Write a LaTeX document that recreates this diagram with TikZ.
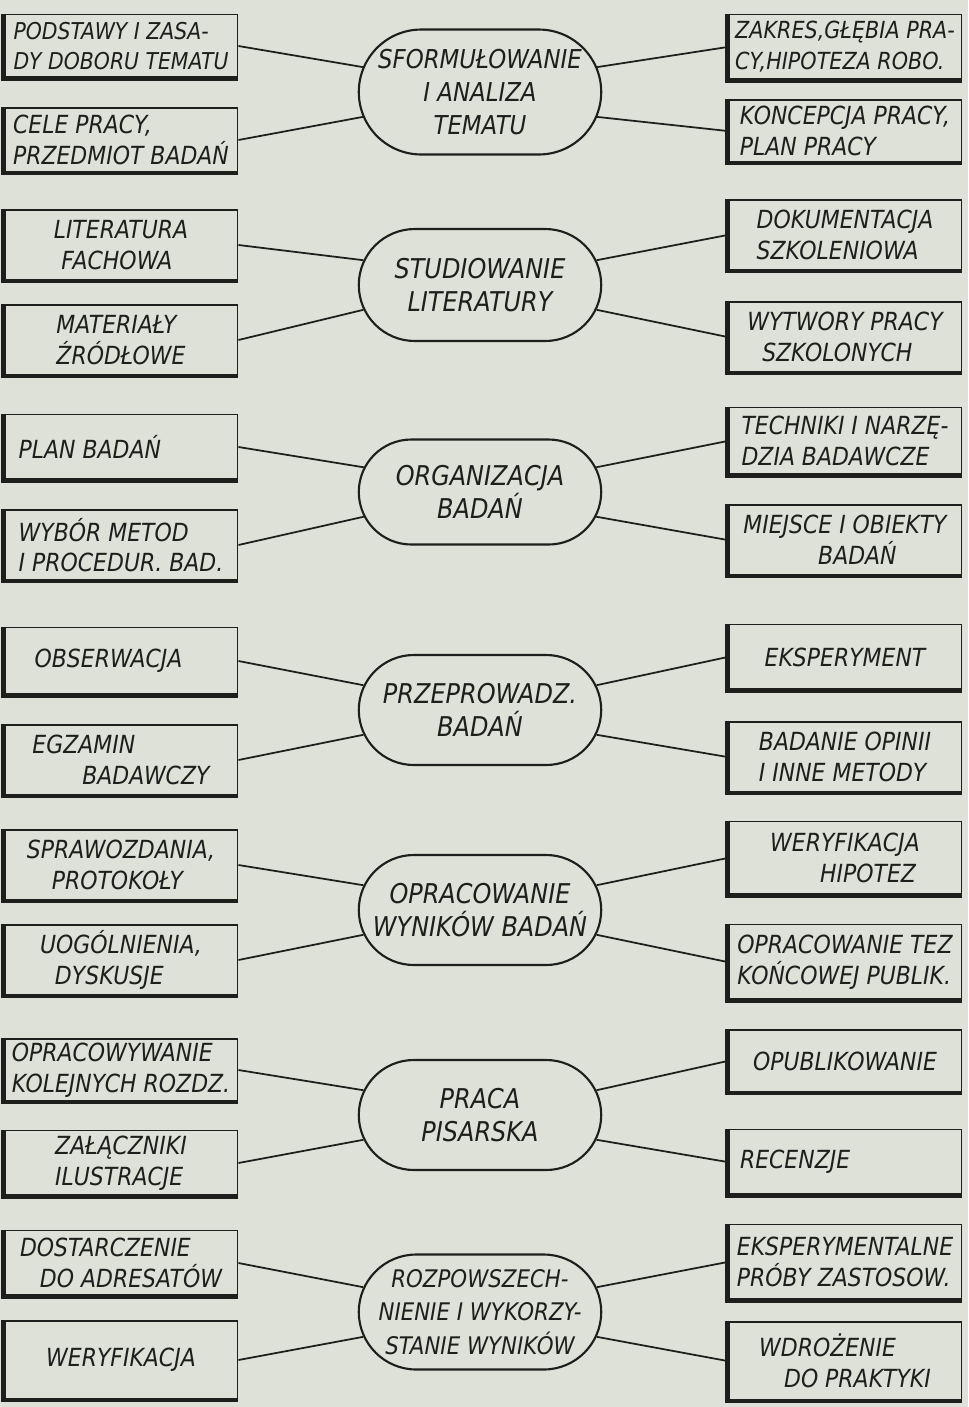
\documentclass[tikz,border=0pt]{standalone}
\usepackage{fontspec}
\setmainfont{DejaVu Sans}[FakeStretch=0.88]
\usetikzlibrary{shapes.misc}
\definecolor{paper}{RGB}{221,225,215}
\definecolor{ink}{RGB}{30,30,28}

\begin{document}
\begin{tikzpicture}[x=0.02cm,y=-0.02cm,
    box/.style={draw=ink,line width=1.1pt,minimum width=4.66cm,align=left,inner sep=2pt,
        text=ink,font=\itshape\fontsize{14.2}{17.5}\selectfont},
    topic/.style={draw=ink,line width=1.2pt,rounded rectangle,minimum width=4.92cm,align=center,
        inner sep=1pt,text=ink,font=\itshape\fontsize{15.5}{19}\selectfont},
    link/.style={draw=ink,line width=1pt}]
    \fill[paper] (0,0) rectangle (968,1407);
    \useasboundingbox (0,0) rectangle (968,1407);

    % centre column
    \node[topic,minimum height=2.5cm,font=\itshape\fontsize{14.8}{19}\selectfont]
        (c1) at (480,92) {SFORMUŁOWANIE\\I ANALIZA\\TEMATU};
    \node[topic,minimum height=2.24cm] (c2) at (480,285)  {STUDIOWANIE\\LITERATURY};
    \node[topic,minimum height=2.1cm]  (c3) at (480,492)  {ORGANIZACJA\\BADAŃ};
    \node[topic,minimum height=2.2cm]  (c4) at (480,710)  {PRZEPROWADZ.\\BADAŃ};
    \node[topic,minimum height=2.2cm]  (c5) at (480,910)  {OPRACOWANIE\\WYNIKÓW BADAŃ};
    \node[topic,minimum height=2.2cm]  (c6) at (480,1115) {PRACA\\PISARSKA};
    \node[topic,minimum height=2.3cm,font=\itshape\fontsize{13.8}{19}\selectfont]
        (c7) at (480,1312) {ROZPOWSZECH-\\NIENIE I WYKORZY-\\STANIE WYNIKÓW};

    % left column
    \node[box,minimum height=1.26cm,font=\itshape\fontsize{13.2}{17.5}\selectfont]
        (l1)  at (121,46)   {PODSTAWY I ZASA-\\DY DOBORU TEMATU};
    \node[box,minimum height=1.28cm] (l2)  at (121,140)  {CELE PRACY,\hspace*{2.5em}\\PRZEDMIOT BADAŃ};
    \node[box,minimum height=1.4cm]  (l3)  at (121,245)  {LITERATURA\\\hspace*{0.3em}FACHOWA};
    \node[box,minimum height=1.4cm]  (l4)  at (121,340)  {MATERIAŁY\\ŹRÓDŁOWE};
    \node[box,minimum height=1.3cm]  (l5)  at (121,447)  {PLAN BADAŃ\hspace*{2.5em}};
    \node[box,minimum height=1.4cm]  (l6)  at (121,545)  {WYBÓR METOD\\I PROCEDUR. BAD.};
    \node[box,minimum height=1.34cm] (l7)  at (121,661)  {OBSERWACJA\hspace*{1em}};
    \node[box,minimum height=1.4cm]  (l8)  at (121,760)  {EGZAMIN\\\hspace*{2em}BADAWCZY};
    \node[box,minimum height=1.4cm]  (l9)  at (121,865)  {SPRAWOZDANIA,\\\hspace*{1em}PROTOKOŁY};
    \node[box,minimum height=1.4cm]  (l10) at (121,960)  {UOGÓLNIENIA,\\\hspace*{0.6em}DYSKUSJE};
    \node[box,minimum height=1.24cm] (l11) at (121,1070) {OPRACOWYWANIE\\KOLEJNYCH ROZDZ.};
    \node[box,minimum height=1.3cm]  (l12) at (121,1163) {ZAŁĄCZNIKI\\ILUSTRACJE};
    \node[box,minimum height=1.3cm]  (l13) at (121,1263) {DOSTARCZENIE\\\hspace*{0.8em}DO ADRESATÓW};
    \node[box,minimum height=1.56cm] (l14) at (121,1360) {WERYFIKACJA};

    % right column
    \node[box,minimum height=1.3cm,font=\itshape\fontsize{13.4}{17.5}\selectfont]
        (r1)  at (845,47)   {ZAKRES,GŁĘBIA PRA-\\CY,HIPOTEZA ROBO.};
    \node[box,minimum height=1.24cm] (r2)  at (845,131)  {KONCEPCJA PRACY,\\PLAN PRACY};
    \node[box,minimum height=1.4cm]  (r3)  at (845,235)  {DOKUMENTACJA\\SZKOLENIOWA};
    \node[box,minimum height=1.4cm]  (r4)  at (845,337)  {WYTWORY PRACY\\\hspace*{0.6em}SZKOLONYCH};
    \node[box,minimum height=1.34cm] (r5)  at (845,441)  {TECHNIKI I NARZĘ-\\DZIA BADAWCZE};
    \node[box,minimum height=1.4cm]  (r6)  at (845,540)  {MIEJSCE I OBIEKTY\\\hspace*{3em}BADAŃ};
    \node[box,minimum height=1.3cm]  (r7)  at (845,657)  {EKSPERYMENT};
    \node[box,minimum height=1.4cm]  (r8)  at (845,757)  {BADANIE OPINII\\I INNE METODY};
    \node[box,minimum height=1.46cm] (r9)  at (845,858)  {WERYFIKACJA\\\hspace*{2em}HIPOTEZ};
    \node[box,minimum height=1.5cm]  (r10) at (845,962)  {OPRACOWANIE TEZ\\KOŃCOWEJ PUBLIK.};
    \node[box,minimum height=1.24cm] (r11) at (845,1061) {OPUBLIKOWANIE};
    \node[box,minimum height=1.3cm]  (r12) at (845,1162) {RECENZJE\hspace*{4em}};
    \node[box,minimum height=1.5cm]  (r13) at (845,1262) {EKSPERYMENTALNE\\PRÓBY ZASTOSOW.};
    \node[box,minimum height=1.56cm] (r14) at (845,1361) {WDROŻENIE\\\hspace*{1em}DO PRAKTYKI};

    % heavy bottom and left edges of the boxes
    \foreach \n in {l1,l2,l3,l4,l5,l6,l7,l8,l9,l10,l11,l12,l13,l14,
                    r1,r2,r3,r4,r5,r6,r7,r8,r9,r10,r11,r12,r13,r14}
        \draw[ink,line width=2.4pt] (\n.north west) -- (\n.south west) -- (\n.south east);

    % connectors
    \foreach \k in {1,...,7} {
        \pgfmathtruncatemacro\up{2*\k-1}
        \pgfmathtruncatemacro\dn{2*\k}
        \draw[link] (l\up.east) -- (c\k.168);
        \draw[link] (l\dn.east) -- (c\k.192);
        \draw[link] (r\up.west) -- (c\k.12);
        \draw[link] (r\dn.west) -- (c\k.-12);
    }
\end{tikzpicture}
\end{document}
